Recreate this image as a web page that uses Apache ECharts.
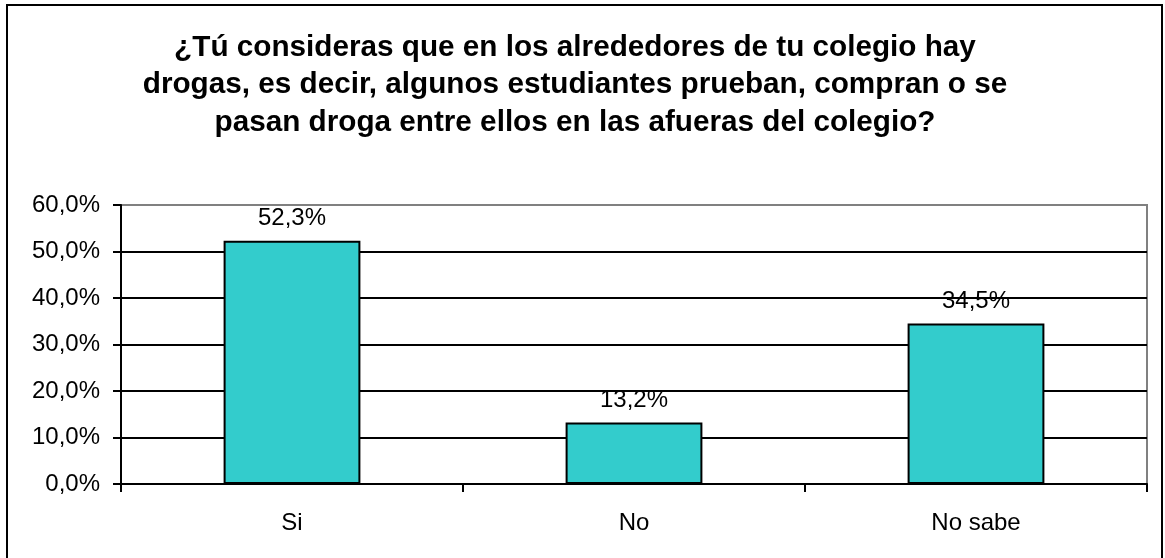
<!DOCTYPE html>
<html>
<head>
<meta charset="utf-8">
<script src="https://cdn.jsdelivr.net/npm/echarts@6/dist/echarts.min.js"></script>
<style>
html,body{margin:0;padding:0;background:#fff;}
#chart{width:1165px;height:558px;}
</style>
</head>
<body>
<div id="chart"></div>
<script>
const titleText = "¿Tú consideras que en los alrededores de tu colegio hay\ndrogas, es decir, algunos estudiantes prueban, compran o se\npasan droga entre ellos en las afueras del colegio?";
const categories = ["Si", "No", "No sabe"];
const values = [52.3, 13.2, 34.5];
const yMin = 0, yMax = 60, yInterval = 10;

const FONT = "'Liberation Sans', Arial, sans-serif";
const fmt = v => Number(v).toFixed(1).replace('.', ',') + '%';

const chart = echarts.init(document.getElementById('chart'), null, {renderer: 'canvas'});
chart.setOption({
  animation: false,
  backgroundColor: '#fff',
  title: {
    text: titleText,
    left: 570,
    top: 24,
    textAlign: 'center',
    textStyle: {
      fontFamily: FONT,
      fontWeight: 'bold',
      fontSize: 29.7,
      lineHeight: 37.5,
      color: '#000'
    }
  },
  graphic: [{
    type: 'rect',
    shape: {x: 7, y: 5, width: 1155, height: 570},
    style: {fill: 'none', stroke: '#000', lineWidth: 2},
    silent: true
  }],
  grid: {
    left: 121, right: 18, top: 205, bottom: 74,
    show: true, borderColor: '#808080', borderWidth: 2, backgroundColor: 'transparent'
  },
  xAxis: {
    type: 'category',
    data: categories,
    boundaryGap: true,
    axisLine: {lineStyle: {color: '#000', width: 2}},
    axisTick: {show: true, alignWithLabel: false, length: 8, lineStyle: {color: '#000', width: 2}},
    axisLabel: {fontFamily: FONT, fontSize: 24, color: '#000', margin: 27},
    splitLine: {show: false}
  },
  yAxis: {
    type: 'value',
    min: yMin, max: yMax, interval: yInterval,
    axisLine: {show: true, lineStyle: {color: '#000', width: 2}},
    axisTick: {show: true, length: 8, lineStyle: {color: '#000', width: 2}},
    axisLabel: {fontFamily: FONT, fontSize: 24, color: '#000', margin: 21, formatter: fmt},
    splitLine: {show: true, showMaxLine: false, lineStyle: {color: '#000', width: 2}}
  },
  series: [{
    type: 'bar',
    data: values,
    barWidth: '40%',
    itemStyle: {color: '#33CCCC', borderColor: '#000', borderWidth: 2},
    label: {
      show: true, position: 'top', distance: 10,
      fontFamily: FONT, fontSize: 24, color: '#000',
      formatter: p => fmt(p.value)
    }
  }]
});
</script>
</body>
</html>
